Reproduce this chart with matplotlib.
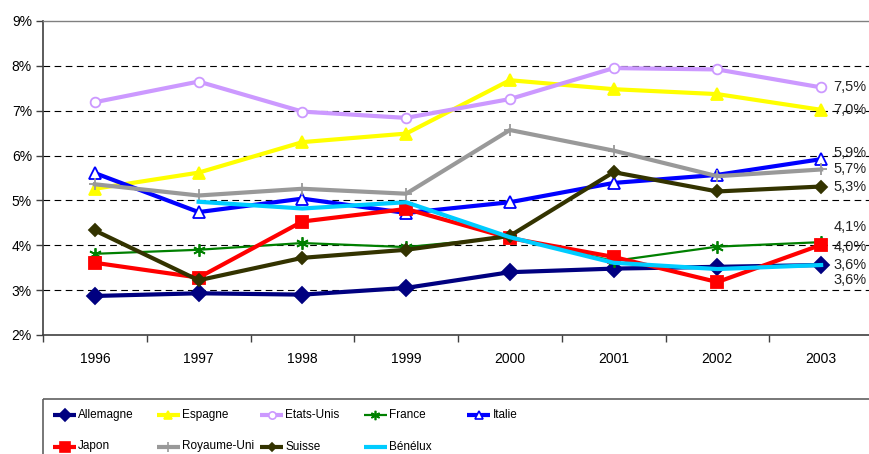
"""Unemployment rate by country, 1996-2003, with an Excel-style legend box."""

import numpy as np
import matplotlib
matplotlib.use("Agg")
import matplotlib.pyplot as plt
from matplotlib.lines import Line2D
from matplotlib.patches import Rectangle
from matplotlib.ticker import FixedLocator, FuncFormatter

plt.rcParams["font.family"] = ["Liberation Sans", "DejaVu Sans"]

years = ["1996", "1997", "1998", "1999", "2000", "2001", "2002", "2003"]

allemagne = [2.87, 2.93, 2.90, 3.05, 3.40, 3.48, 3.52, 3.56]
espagne = [5.26, 5.62, 6.30, 6.49, 7.68, 7.48, 7.37, 7.02]
etats_unis = [7.19, 7.65, 6.98, 6.84, 7.26, 7.95, 7.92, 7.52]
france = [3.81, 3.90, 4.05, 3.96, 4.18, 3.65, 3.97, 4.07]
italie = [5.61, 4.74, 5.04, 4.72, 4.96, 5.39, 5.57, 5.92]
japon = [3.61, 3.28, 4.53, 4.81, 4.16, 3.74, 3.18, 4.01]
royaume_uni = [5.36, 5.11, 5.26, 5.15, 6.57, 6.11, 5.54, 5.69]
suisse = [4.33, 3.22, 3.72, 3.90, 4.21, 5.63, 5.20, 5.31]
benelux = [np.nan, 4.97, 4.82, 4.96, 4.18, 3.61, 3.47, 3.56]

# name, values, colour, line width, marker, marker size, marker face, end-label offset (px)
series = [
    ("Allemagne", allemagne, "#000080", 3.0, "D", 8, "#000080", 0),
    ("Espagne", espagne, "#FFFF00", 3.0, "^", 8, "#FFFF00", 0),
    ("Etats-Unis", etats_unis, "#CC99FF", 3.0, "o", 7, "white", 0),
    ("France", france, "#008000", 1.6, (6, 2, 0), 9, "#008000", -15),
    ("Italie", italie, "#0000FF", 3.0, "^", 8, "white", -6),
    ("Japon", japon, "#FF0000", 3.0, "s", 9, "#FF0000", 2),
    ("Royaume-Uni", royaume_uni, "#999999", 3.0, "+", 9, "#999999", 0),
    ("Suisse", suisse, "#333300", 3.0, "D", 6, "#333300", 0),
    ("Bénélux", benelux, "#00CCFF", 3.0, "None", 0, "#00CCFF", 15),
]

W, H = 869, 454
fig = plt.figure(figsize=(W / 100, H / 100), dpi=100)
fig.patch.set_facecolor("white")

left, right, top, bottom = 43, 873, 21, 335
ax = fig.add_axes([left / W, 1 - bottom / H, (right - left) / W, (bottom - top) / H])

x = np.arange(len(years))
for name, vals, col, lw, mk, ms, face, dy in series:
    ax.plot(x, vals, color=col, lw=lw, marker=mk, markersize=ms,
            markerfacecolor=face, markeredgecolor=col, markeredgewidth=1.3,
            solid_joinstyle="round", zorder=3)
    label = f"{vals[-1]:.1f}%".replace(".", ",")
    ax.annotate(label, (x[-1], vals[-1]), xytext=(12, -dy), textcoords="offset pixels",
                ha="left", va="center", fontsize=10.5, color="#222222", zorder=4)

ax.set_xlim(-0.5, len(years) - 0.5)
ax.set_ylim(2, 9)

# dashed gridlines at the inner percentages
for v in range(3, 9):
    ax.axhline(v, color="black", lw=0.8, ls=(0, (6, 4)), zorder=1)

ax.yaxis.set_major_locator(FixedLocator(range(2, 10)))
ax.yaxis.set_major_formatter(FuncFormatter(lambda v, _: f"{int(v)}%"))
ax.set_xticks(x)
ax.set_xticklabels(years)
ax.xaxis.set_minor_locator(FixedLocator(np.arange(-0.5, len(years), 1.0)))
ax.tick_params(axis="x", which="major", length=0, pad=12, labelsize=10)
ax.tick_params(axis="x", which="minor", length=5, width=1, color="#404040", direction="out")
ax.tick_params(axis="y", length=5, width=1, color="#404040", direction="out", pad=3, labelsize=10)

for s in ("left", "bottom"):
    ax.spines[s].set_color("#404040")
    ax.spines[s].set_linewidth(1.2)
ax.spines["top"].set_color("#808080")
ax.spines["top"].set_linewidth(1.0)
ax.spines["right"].set_visible(False)

# legend box, laid out in pixel units
lax = fig.add_axes([0, 0, 1, 1], zorder=5)
lax.set_xlim(0, W)
lax.set_ylim(H, 0)
lax.axis("off")
lax.add_patch(Rectangle((43, 399), 900, 100, fill=False, edgecolor="#606060", lw=1.2))
for i, (name, vals, col, lw, mk, ms, face, dy) in enumerate(series):
    cx = 53 + (i % 5) * 103.6
    cy = 415 + (i // 5) * 31.5
    lax.add_line(Line2D([cx, cx + 23], [cy, cy], color=col, lw=lw, solid_capstyle="butt"))
    if mk != "None":
        lax.add_line(Line2D([cx + 11.5], [cy], marker=mk, markersize=ms * 0.75,
                            markerfacecolor=face, markeredgecolor=col, markeredgewidth=1.2))
    lax.text(cx + 25, cy, name, ha="left", va="center", fontsize=8.5, color="black")

fig.savefig("out.png", dpi=100)
